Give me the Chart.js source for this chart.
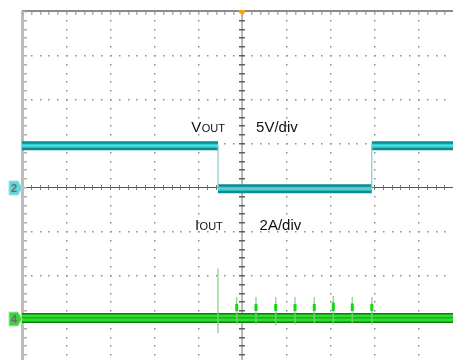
<!DOCTYPE html>
<html>
<head>
<meta charset="utf-8">
<script src="https://cdn.jsdelivr.net/npm/chart.js@4"></script>
<style>
  html, body { margin: 0; padding: 0; background: #ffffff; overflow: hidden; width: 453px; height: 360px; }
  #wrap { position: absolute; left: 0; top: 0; width: 470px; height: 370px; }
</style>
</head>
<body>
<div id="wrap"><canvas id="scope" width="470" height="370"></canvas></div>
<script>
// Horizontal position is given in screen divisions from the centre (10 across).
// VOUT: 5 V/div, ground at centre line. IOUT: 2 A/div, ground 3 div below centre.
const vEdges = [-0.545, 2.95];              // VOUT switching instants
const vLevels = [4.7, -0.2, 4.7];           // VOUT level in each interval (V)

const iBase = 0.05;                         // IOUT resting level (A)
const iKickTime = -0.545;                   // glitch when VOUT falls
const iKickHigh = 2.3;
const iKickLow = -0.65;

const iPulseTimes = [-0.12, 0.318, 0.766, 1.205, 1.643, 2.075, 2.507, 2.95];
const iPulseHigh  = [1.0, 1.0, 1.0, 1.0, 1.0, 1.05, 1.0, 1.0];
const iPulseLow   = [-0.25, -0.25, -0.3, -0.25, -0.2, -0.25, -0.2, -0.25];
const iPulseCoreHigh = [0.68, 0.68, 0.68, 0.68, 0.68, 0.75, 0.7, 0.68];
const iPulseCoreLow  = [0.36, 0.36, 0.36, 0.36, 0.36, 0.36, 0.36, 0.36];

const X_MIN = -5, X_MAX = 5;
const V_PER_DIV = 5, A_PER_DIV = 2, I_ZERO_DIV = -3;

// ---- build plotted paths from the arrays above ----
const vStep = [{ x: X_MIN, y: vLevels[0] }];
vEdges.forEach((t, k) => {
  vStep.push({ x: t, y: vLevels[k] });
  vStep.push({ x: t, y: vLevels[k + 1] });
});
vStep.push({ x: X_MAX, y: vLevels[vLevels.length - 1] });

const vBand = [];
const bounds = [X_MIN, ...vEdges, X_MAX];
vLevels.forEach((lvl, k) => {
  vBand.push({ x: bounds[k], y: lvl });
  vBand.push({ x: bounds[k + 1], y: lvl });
  vBand.push({ x: bounds[k + 1], y: null });
});

const iBand = [{ x: X_MIN, y: iBase }, { x: X_MAX, y: iBase }];

const iSpikes = [{ x: iKickTime, y: iKickHigh }, { x: iKickTime, y: iKickLow }, { x: iKickTime, y: null }];
iPulseTimes.forEach((t, k) => {
  iSpikes.push({ x: t, y: iPulseHigh[k] }, { x: t, y: iPulseLow[k] }, { x: t, y: null });
});
const iCores = [];
iPulseTimes.forEach((t, k) => {
  iCores.push({ x: t, y: iPulseCoreHigh[k] }, { x: t, y: iPulseCoreLow[k] }, { x: t, y: null });
});

// ---- graticule: dotted divisions, centre cross with ticks, frame ----
const graticule = {
  id: 'graticule',
  beforeDatasetsDraw(chart) {
    const { ctx, chartArea: a } = chart;
    const xs = chart.scales.x, ys = chart.scales.yV;
    const px = d => xs.getPixelForValue(d);
    const py = d => ys.getPixelForValue(d * V_PER_DIV);
    ctx.save();
    // dotted division lines
    ctx.fillStyle = '#8c8c8c';
    for (let i = -4; i <= 4; i++) {
      if (i === 0) continue;
      const x = Math.round(px(i));
      for (let s = -20; s <= 20; s++) {
        ctx.fillRect(x, Math.round(py(s / 5)), 1.5, 1.5);
      }
    }
    for (let j = -3; j <= 3; j++) {
      if (j === 0) continue;
      const y = Math.round(py(j));
      for (let s = -25; s <= 25; s++) {
        ctx.fillRect(Math.round(px(s / 5)), y, 1.5, 1.5);
      }
    }
    // centre vertical line
    const cx = Math.round(px(0)), cy = Math.round(py(0));
    ctx.fillStyle = '#b8b8b8';
    ctx.fillRect(cx - 1, a.top, 2, a.bottom - a.top);
    ctx.fillStyle = '#5e5e5e';
    for (let s = -20; s <= 20; s++) {
      ctx.fillRect(cx - 3, Math.round(py(s / 5)), 6, 1.5);
    }
    // centre horizontal line
    ctx.fillStyle = '#555555';
    ctx.fillRect(a.left, cy, a.right - a.left, 1);
    ctx.fillStyle = '#777777';
    for (let s = -25; s <= 25; s++) {
      ctx.fillRect(Math.round(px(s / 5)), cy - 2, 1, 5);
    }
    // frame: top and left
    ctx.fillStyle = '#8a8a8a';
    ctx.fillRect(a.left, a.top - 1, a.right - a.left, 2);
    ctx.fillStyle = '#bdbdbd';
    ctx.fillRect(a.left - 1, a.top, 3, a.bottom - a.top);
    ctx.fillStyle = '#b0b0b0';
    for (let s = -25; s <= 25; s++) {
      ctx.fillRect(Math.round(px(s / 5)), a.top + 1, 1.5, 3);
    }
    for (let s = -20; s <= 20; s++) {
      ctx.fillRect(a.left + 2, Math.round(py(s / 5)), 3, 1.5);
    }
    ctx.restore();
  },
  afterDraw(chart) {
    const { ctx, chartArea: a } = chart;
    const xs = chart.scales.x, ys = chart.scales.yV, yi = chart.scales.yI;
    const px = d => xs.getPixelForValue(d);
    const py = d => ys.getPixelForValue(d * V_PER_DIV);
    ctx.save();
    // trigger position marker
    const tx = px(0);
    ctx.fillStyle = '#f5a21b';
    ctx.beginPath();
    ctx.moveTo(tx - 4, a.top - 1);
    ctx.lineTo(tx + 4, a.top - 1);
    ctx.lineTo(tx, a.top + 5);
    ctx.closePath();
    ctx.fill();

    // channel ground markers
    function marker(yc, fill, edge, label) {
      const r = a.left;
      ctx.beginPath();
      ctx.moveTo(r - 13, yc - 7);
      ctx.lineTo(r - 4, yc - 7);
      ctx.lineTo(r, yc);
      ctx.lineTo(r - 4, yc + 7);
      ctx.lineTo(r - 13, yc + 7);
      ctx.closePath();
      ctx.fillStyle = fill;
      ctx.fill();
      ctx.strokeStyle = edge;
      ctx.lineWidth = 1;
      ctx.stroke();
      ctx.fillStyle = '#6b6b6b';
      ctx.font = 'bold 11px "Liberation Sans", Arial, sans-serif';
      ctx.textAlign = 'center';
      ctx.textBaseline = 'middle';
      ctx.fillText(label, r - 8, yc + 1);
    }
    marker(py(0) + 1, '#5ed6da', '#9ee6e8', '2');
    marker(yi.getPixelForValue(0), '#3fcf3f', '#a6eba6', '4');

    // channel annotations
    ctx.fillStyle = '#111111';
    ctx.textAlign = 'left';
    ctx.textBaseline = 'alphabetic';
    function sub(x, y, big, small) {
      ctx.font = '15px "Liberation Sans", Arial, sans-serif';
      ctx.fillText(big, x, y);
      const w = ctx.measureText(big).width;
      ctx.font = '11px "Liberation Sans", Arial, sans-serif';
      ctx.fillText(small, x + w + 0.5, y);
    }
    sub(px(-1.155), py(1.25), 'V', 'OUT');
    ctx.font = '15px "Liberation Sans", Arial, sans-serif';
    ctx.fillText('5V/div', px(0.32), py(1.25));
    sub(px(-1.07), py(-0.97), 'I', 'OUT');
    ctx.font = '15px "Liberation Sans", Arial, sans-serif';
    ctx.fillText('2A/div', px(0.4), py(-0.97));
    ctx.restore();
  }
};

new Chart(document.getElementById('scope'), {
  type: 'line',
  data: {
    datasets: [
      { data: iCores, yAxisID: 'yI', borderColor: '#19d419', borderWidth: 3, order: 0 },
      { data: iSpikes, yAxisID: 'yI', borderColor: 'rgba(130,205,130,0.8)', borderWidth: 1.5, order: 1 },
      { data: iBand, yAxisID: 'yI', borderColor: '#0e9a0e', borderWidth: 1, order: 2 },
      { data: iBand, yAxisID: 'yI', borderColor: '#30dc30', borderWidth: 7, order: 3 },
      { data: iBand, yAxisID: 'yI', borderColor: '#087f08', borderWidth: 10, order: 4 },
      { data: vStep, yAxisID: 'yV', borderColor: '#8cc9cc', borderWidth: 1.2, order: 5 },
      { data: vBand, yAxisID: 'yV', borderColor: '#2fd0d4', borderWidth: 4, order: 6 },
      { data: vBand, yAxisID: 'yV', borderColor: '#0b8c92', borderWidth: 9, order: 7 }
    ]
  },
  options: {
    responsive: false,
    animation: false,
    devicePixelRatio: 1,
    layout: { padding: { left: 22, top: 11, right: 8, bottom: 7 } },
    elements: {
      point: { radius: 0, hoverRadius: 0 },
      line: { tension: 0, borderCapStyle: 'butt', borderJoinStyle: 'miter' }
    },
    spanGaps: false,
    plugins: { legend: { display: false }, tooltip: { enabled: false } },
    events: [],
    scales: {
      x: { type: 'linear', min: X_MIN, max: X_MAX, display: false },
      yV: { type: 'linear', min: -4 * V_PER_DIV, max: 4 * V_PER_DIV, display: false },
      yI: { type: 'linear', min: (-4 - I_ZERO_DIV) * A_PER_DIV, max: (4 - I_ZERO_DIV) * A_PER_DIV, display: false }
    }
  },
  plugins: [graticule]
});
</script>
</body>
</html>
